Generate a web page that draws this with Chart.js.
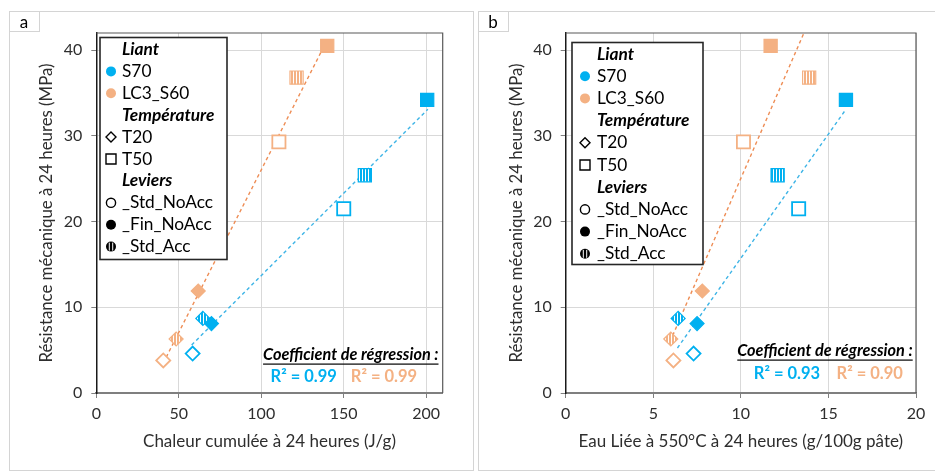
<!DOCTYPE html>
<html><head><meta charset="utf-8">
<script src="https://cdn.jsdelivr.net/npm/chart.js@4.4.1/dist/chart.umd.min.js"></script>
<style>
html,body{margin:0;padding:0;background:#fff;}
#wrap{position:relative;width:935px;height:473px;overflow:hidden;background:#fff;}
canvas{position:absolute;top:0;}
#ca{left:0;} #cb{left:474px;}
</style></head><body>
<div id="wrap"><canvas id="ca" width="474" height="473"></canvas><canvas id="cb" width="461" height="473"></canvas></div>
<script>
// ---- data ----
const binders = ['S70', 'LC3_S60'];
const conditions = ['T20_Std_NoAcc', 'T20_Fin_NoAcc', 'T20_Std_Acc', 'T50_Std_NoAcc', 'T50_Fin_NoAcc', 'T50_Std_Acc'];
const strengthS70 = [4.6, 8.1, 8.7, 21.5, 34.2, 25.4];
const strengthLC3 = [3.8, 11.9, 6.3, 29.3, 40.5, 36.8];
const heatS70 = [58.4, 69.8, 64.6, 150.0, 200.6, 162.8];
const heatLC3 = [40.6, 61.8, 48.4, 110.7, 140.0, 121.4];
const waterS70 = [7.3, 7.5, 6.42, 13.3, 16.0, 12.1];
const waterLC3 = [6.15, 7.8, 6.0, 10.15, 11.7, 13.9];
// trend lines (endpoints)
const trendHeatS70X = [57.8, 201.0], trendHeatS70Y = [5.6, 33.1];
const trendHeatLC3X = [40.6, 140.0], trendHeatLC3Y = [3.5, 41.2];
const trendWaterS70X = [6.38, 16.0], trendWaterS70Y = [5.25, 33.1];
const trendWaterLC3X = [5.96, 13.6], trendWaterLC3Y = [6.0, 42.0];
const r2Heat = ['R² = 0.99', 'R² = 0.99'];
const r2Water = ['R² = 0.93', 'R² = 0.90'];
const xTicksHeat = [0, 50, 100, 150, 200];
const xTicksWater = [0, 5, 10, 15, 20];
const yTicks = [0, 10, 20, 30, 40];
const legendLabels = ['Liant', 'S70', 'LC3_S60', 'Température', 'T20', 'T50', 'Leviers', '_Std_NoAcc', '_Fin_NoAcc', '_Std_Acc'];

// ---- styles ----
const BLUE = '#00B0F0', ORANGE = '#F4B183';
const BLUE_T = '#3DB4E6', ORANGE_T = '#EE8D55';
const FONT = 'Lato, "Open Sans", sans-serif';
const TXT = '#2E2E2E';

function stripe(color) {
  const c = document.createElement('canvas'); c.width = 3; c.height = 4;
  const x = c.getContext('2d');
  x.fillStyle = '#fff'; x.fillRect(0, 0, 3, 4);
  x.fillStyle = color; x.fillRect(0, 0, 2, 4);
  return x.createPattern(c, 'repeat');
}

function pts(xs, ys) { return xs.map((v, i) => ({x: v, y: ys[i]})); }

function markerDataset(label, xs, ys, color) {
  const pat = stripe(color);
  return {
    label,
    data: pts(xs, ys),
    pointStyle: conditions.map(c => c.startsWith('T20') ? 'rectRot' : 'rect'),
    pointRadius: conditions.map(c => c.startsWith('T20') ? 7 : 9.3),
    pointHoverRadius: conditions.map(c => c.startsWith('T20') ? 7 : 9.3),
    backgroundColor: conditions.map(c => c.endsWith('Std_NoAcc') ? '#ffffff' : (c.endsWith('Fin_NoAcc') ? color : pat)),
    borderColor: color,
    pointBorderWidth: conditions.map(c => c.endsWith('Std_NoAcc') ? 1.8 : 1.2),
    showLine: false
  };
}
function trendDataset(xs, ys, color) {
  return {data: pts(xs, ys), showLine: true, borderColor: color, borderWidth: 1.4, borderDash: [3.5, 3], pointRadius: 0, pointHoverRadius: 0, fill: false};
}

function drawMarker(ctx, kind, x, y, fill) {
  ctx.save();
  ctx.lineWidth = 1.4; ctx.strokeStyle = '#000';
  ctx.beginPath();
  if (kind === 'circle') { ctx.arc(x, y, 5, 0, Math.PI * 2); ctx.fillStyle = fill; ctx.fill(); }
  else if (kind === 'circleOpen') { ctx.arc(x, y, 4.6, 0, Math.PI * 2); ctx.stroke(); }
  else if (kind === 'circleStripe') { ctx.arc(x, y, 5, 0, Math.PI * 2); ctx.fillStyle = '#000'; ctx.fill();
    ctx.fillStyle = '#fff'; ctx.fillRect(x - 2.2, y - 4, 1, 8); ctx.fillRect(x + 1.2, y - 4, 1, 8); }
  else if (kind === 'diamond') { ctx.moveTo(x, y - 5); ctx.lineTo(x + 5, y); ctx.lineTo(x, y + 5); ctx.lineTo(x - 5, y); ctx.closePath(); ctx.stroke(); }
  else if (kind === 'square') { ctx.rect(x - 5, y - 5, 10, 10); ctx.stroke(); }
  ctx.restore();
}

const decor = {
  id: 'decor',
  beforeDatasetsDraw(chart, args, o) {
    const {ctx, chartArea: a} = chart;
    ctx.save();
    ctx.strokeStyle = '#595959'; ctx.lineWidth = 1.2;
    ctx.beginPath(); ctx.moveTo(a.left, a.top); ctx.lineTo(a.right, a.top); ctx.lineTo(a.right, a.bottom); ctx.stroke();
    ctx.restore();
  },
  afterDraw(chart, args, o) {
    const {ctx} = chart;
    ctx.save();
    // panel frame
    ctx.strokeStyle = '#D4D4D4'; ctx.lineWidth = 1;
    ctx.strokeRect(o.frame[0], o.frame[1], o.frame[2], o.frame[3]);
    ctx.strokeRect(o.frame[0], o.frame[1], 30, 20);
    ctx.fillStyle = '#000'; ctx.font = '17px ' + FONT; ctx.textAlign = 'center'; ctx.textBaseline = 'middle';
    ctx.fillText(o.tag, o.frame[0] + 14.5, o.frame[1] + 11);
    // legend box
    const L = o.legend;
    ctx.strokeStyle = '#262626'; ctx.lineWidth = 1.6;
    ctx.fillStyle = '#fff';
    ctx.fillRect(L.x, L.y, L.w, L.h);
    ctx.strokeRect(L.x, L.y, L.w, L.h);
    const kinds = [null, 'circle', 'circle', null, 'diamond', 'square', null, 'circleOpen', 'circle', 'circleStripe'];
    const fills = [null, BLUE, ORANGE, null, null, null, null, null, '#000', null];
    legendLabels.forEach((t, i) => {
      const y = L.y + L.first + i * L.step;
      ctx.textAlign = 'left'; ctx.textBaseline = 'middle'; ctx.fillStyle = '#000';
      if (kinds[i] === null) { ctx.font = 'italic bold 17.3px ' + FONT; }
      else { ctx.font = '17.3px ' + FONT; drawMarker(ctx, kinds[i], L.x + L.mx, y, fills[i]); }
      ctx.fillText(t, L.x + L.tx, y);
    });
    // regression annotation
    ctx.font = 'italic bold 16.3px ' + FONT; ctx.textAlign = 'right'; ctx.fillStyle = '#000';
    const txt = 'Coefficient de régression :';
    ctx.fillText(txt, o.coef[0], o.coef[1]);
    const w = ctx.measureText(txt).width;
    ctx.fillRect(o.coef[0] - w, o.coef[1] + 8.5, w, 1.2);
    ctx.font = 'bold 16.5px ' + FONT; ctx.textAlign = 'center';
    ctx.fillStyle = BLUE; ctx.fillText(o.r2[0], o.r2pos[0], o.r2pos[2]);
    ctx.fillStyle = ORANGE; ctx.fillText(o.r2[1], o.r2pos[1], o.r2pos[2]);
    ctx.restore();
  }
};

function makeChart(id, xs1, xs2, t1, t2, xMax, xStep, xTicks, xTitle, yWidth, yTitlePad, rightPad, deco) {
  return new Chart(document.getElementById(id), {
    type: 'scatter',
    data: {datasets: [
      markerDataset(binders[0], xs1, strengthS70, BLUE),
      markerDataset(binders[1], xs2, strengthLC3, ORANGE),
      trendDataset(t1[0], t1[1], BLUE_T),
      trendDataset(t2[0], t2[1], ORANGE_T)
    ]},
    options: {
      responsive: false, animation: false, devicePixelRatio: 1,
      layout: {padding: {left: 0, right: rightPad, top: 33, bottom: 10}},
      plugins: {legend: {display: false}, tooltip: {enabled: false}, decor: deco},
      scales: {
        x: {
          type: 'linear', min: 0, max: xMax,
          afterBuildTicks: s => { s.ticks = xTicks.map(v => ({value: v})); },
          ticks: {stepSize: xStep, includeBounds: false, padding: 6, color: TXT, font: {family: FONT, size: 16}},
          grid: {color: '#D9D9D9', lineWidth: 1, tickColor: '#7F7F7F', tickLength: 5},
          border: {color: '#7F7F7F', width: 2},
          title: {display: true, text: xTitle, color: TXT, font: {family: FONT, size: 17}, padding: {top: 0, bottom: 11}},
          afterFit: s => { s.height = 70; }
        },
        y: {
          type: 'linear', min: 0, max: 42,
          afterBuildTicks: s => { s.ticks = yTicks.map(v => ({value: v})); },
          ticks: {stepSize: 10, includeBounds: false, padding: 9, color: TXT, font: {family: FONT, size: 16}},
          grid: {color: '#D9D9D9', lineWidth: 1, tickColor: '#7F7F7F', tickLength: 5},
          border: {color: '#1A1A1A', width: 1.5},
          title: {display: true, text: 'Résistance mécanique à 24 heures (MPa)', color: TXT, font: {family: FONT, size: 16.8}, padding: {top: yTitlePad, bottom: 0}},
          afterFit: s => { s.width = yWidth; }
        }
      }
    },
    plugins: [decor]
  });
}

makeChart('ca', heatS70, heatLC3, [trendHeatS70X, trendHeatS70Y], [trendHeatLC3X, trendHeatLC3Y], 210, 50, xTicksHeat,
  'Chaleur cumulée à 24 heures (J/g)', 96.3, 37, 31.3,
  {tag: 'a', frame: [9.5, 11.5, 464, 459], legend: {x: 100, y: 37.5, w: 127, h: 222, first: 12, step: 21.9, mx: 11, tx: 22},
   coef: [438.5, 355], r2: r2Heat, r2pos: [303.7, 384, 377]});
makeChart('cb', waterS70, waterLC3, [trendWaterS70X, trendWaterS70Y], [trendWaterLC3X, trendWaterLC3Y], 20, 5, xTicksWater,
  'Eau Liée à 550°C à 24 heures (g/100g pâte)', 91.7, 32.7, 19,
  {tag: 'b', frame: [4.5, 11.5, 470, 459], legend: {x: 98, y: 42.5, w: 131, h: 222, first: 11.5, step: 22.2, mx: 13, tx: 25},
   coef: [438.7, 351], r2: r2Water, r2pos: [313, 395.7, 374]});
</script>
</body></html>
